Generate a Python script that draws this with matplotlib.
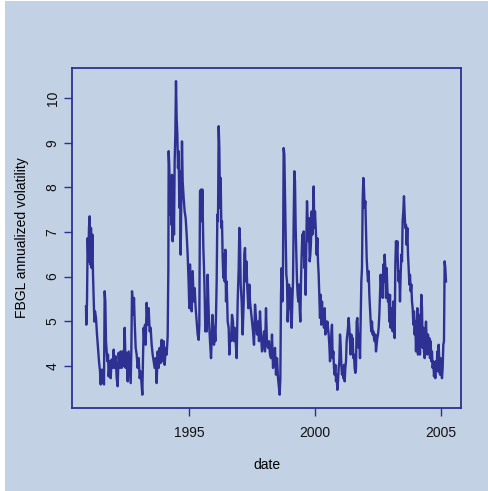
import matplotlib
matplotlib.use("Agg")
import matplotlib.pyplot as plt
from matplotlib.patches import Rectangle

# annualized volatility of the FBGL series, sampled roughly every two weeks
years = [
    1990.889, 1990.902, 1990.929, 1990.955, 1990.982, 1991.008, 1991.035, 1991.062, 1991.088, 1991.115,
    1991.141, 1991.168, 1991.194, 1991.221, 1991.247, 1991.287, 1991.327, 1991.367, 1991.406, 1991.446,
    1991.473, 1991.499, 1991.526, 1991.552, 1991.579, 1991.605, 1991.632, 1991.658, 1991.685, 1991.711,
    1991.738, 1991.765, 1991.791, 1991.831, 1991.871, 1991.911, 1991.950, 1991.990, 1992.030, 1992.070,
    1992.110, 1992.149, 1992.189, 1992.229, 1992.269, 1992.309, 1992.348, 1992.388, 1992.428, 1992.468,
    1992.507, 1992.547, 1992.587, 1992.627, 1992.667, 1992.693, 1992.720, 1992.746, 1992.773, 1992.799,
    1992.826, 1992.866, 1992.905, 1992.945, 1992.985, 1993.025, 1993.065, 1993.104, 1993.131, 1993.157,
    1993.184, 1993.210, 1993.237, 1993.263, 1993.303, 1993.343, 1993.383, 1993.423, 1993.462, 1993.502,
    1993.542, 1993.582, 1993.622, 1993.661, 1993.701, 1993.741, 1993.781, 1993.821, 1993.860, 1993.900,
    1993.940, 1993.980, 1994.020, 1994.059, 1994.099, 1994.139, 1994.166, 1994.179, 1994.205, 1994.232,
    1994.258, 1994.285, 1994.311, 1994.338, 1994.364, 1994.391, 1994.417, 1994.444, 1994.470, 1994.497,
    1994.524, 1994.550, 1994.576, 1994.603, 1994.630, 1994.656, 1994.683, 1994.709, 1994.736, 1994.776,
    1994.815, 1994.855, 1994.895, 1994.935, 1994.975, 1995.001, 1995.028, 1995.054, 1995.094, 1995.134,
    1995.174, 1995.213, 1995.253, 1995.293, 1995.333, 1995.372, 1995.399,
    1995.426, 1995.466, 1995.492, 1995.519, 1995.559, 1995.585, 1995.612, 1995.638, 1995.665, 1995.691,
    1995.731, 1995.758, 1995.784, 1995.824, 1995.864, 1995.890, 1995.917, 1995.956, 1995.983, 1996.010,
    1996.036, 1996.063, 1996.089, 1996.116, 1996.142, 1996.169, 1996.195, 1996.222, 1996.248, 1996.275,
    1996.301, 1996.328, 1996.354, 1996.381, 1996.407, 1996.434, 1996.461, 1996.487, 1996.527, 1996.567,
    1996.593, 1996.620, 1996.659, 1996.699, 1996.739, 1996.766, 1996.805, 1996.845, 1996.885, 1996.925,
    1996.965, 1996.991, 1997.018, 1997.044, 1997.084, 1997.124, 1997.164, 1997.190, 1997.217, 1997.243,
    1997.270, 1997.309, 1997.349, 1997.389, 1997.416, 1997.455, 1997.495, 1997.535, 1997.575, 1997.615,
    1997.654, 1997.694, 1997.734, 1997.774, 1997.813, 1997.853, 1997.893, 1997.933, 1997.973, 1998.012,
    1998.052, 1998.092, 1998.132, 1998.171, 1998.211, 1998.251, 1998.291, 1998.331, 1998.370, 1998.410,
    1998.450, 1998.490, 1998.530, 1998.569, 1998.596, 1998.623, 1998.649, 1998.676, 1998.702, 1998.729,
    1998.755, 1998.782, 1998.808, 1998.835, 1998.861, 1998.888, 1998.914, 1998.941, 1998.967, 1998.994,
    1999.020, 1999.047, 1999.074, 1999.100, 1999.127, 1999.153, 1999.180, 1999.206, 1999.233, 1999.259,
    1999.286, 1999.312, 1999.339, 1999.365, 1999.392, 1999.418, 1999.445, 1999.472, 1999.498, 1999.525,
    1999.551, 1999.578, 1999.604, 1999.631, 1999.657, 1999.684, 1999.710, 1999.737, 1999.763, 1999.790,
    1999.816, 1999.843, 1999.869, 1999.896, 1999.922, 1999.949, 1999.975,
    2000.002, 2000.042, 2000.068, 2000.095, 2000.121, 2000.148, 2000.174, 2000.201, 2000.227, 2000.254,
    2000.281, 2000.307, 2000.334, 2000.360, 2000.387, 2000.413, 2000.440, 2000.466, 2000.493, 2000.519,
    2000.546, 2000.572, 2000.599, 2000.625, 2000.652, 2000.678, 2000.705, 2000.732, 2000.758, 2000.785,
    2000.811, 2000.838, 2000.864, 2000.891, 2000.917, 2000.944, 2000.970, 2000.997, 2001.023, 2001.050,
    2001.076, 2001.103, 2001.129, 2001.156, 2001.183, 2001.209, 2001.236, 2001.262, 2001.289, 2001.315,
    2001.342, 2001.368, 2001.395, 2001.421, 2001.448, 2001.474, 2001.501, 2001.527, 2001.554, 2001.580,
    2001.607, 2001.634, 2001.660, 2001.687, 2001.713, 2001.740, 2001.766, 2001.793, 2001.819, 2001.846,
    2001.872, 2001.899, 2001.925, 2001.952, 2001.978, 2002.005, 2002.031, 2002.058, 2002.085, 2002.111,
    2002.138, 2002.164, 2002.191, 2002.217, 2002.244, 2002.270, 2002.297, 2002.323, 2002.350, 2002.376,
    2002.403, 2002.429, 2002.456, 2002.482, 2002.509, 2002.535, 2002.562, 2002.589, 2002.615, 2002.642,
    2002.668, 2002.695, 2002.721, 2002.748, 2002.774, 2002.801, 2002.827, 2002.854, 2002.880, 2002.907,
    2002.933, 2002.960, 2002.986, 2003.013, 2003.040, 2003.066, 2003.093, 2003.119, 2003.146, 2003.172,
    2003.199, 2003.225, 2003.252, 2003.278, 2003.305, 2003.331, 2003.358, 2003.384, 2003.411, 2003.437,
    2003.464, 2003.490, 2003.517, 2003.543, 2003.570, 2003.596, 2003.623, 2003.650, 2003.676, 2003.703,
    2003.729, 2003.756, 2003.782, 2003.809, 2003.835, 2003.862, 2003.888, 2003.915, 2003.941, 2003.968,
    2003.994, 2004.021, 2004.047, 2004.074, 2004.100, 2004.127, 2004.154, 2004.180, 2004.207, 2004.233,
    2004.260, 2004.286, 2004.313, 2004.339, 2004.366, 2004.392, 2004.419, 2004.445, 2004.472, 2004.498,
    2004.525, 2004.551, 2004.578, 2004.604, 2004.631, 2004.657, 2004.684, 2004.711, 2004.737, 2004.764,
    2004.790, 2004.817, 2004.843, 2004.870, 2004.896, 2004.923, 2004.949, 2004.976, 2005.002, 2005.029,
    2005.055, 2005.082, 2005.108, 2005.135, 2005.161, 2005.188, 2005.215,
]

vol = [
    5.33, 4.92, 5.44, 6.86, 6.34, 7.09, 7.35, 6.27, 7.09, 6.19,
    6.94, 6.04, 5.52, 4.99, 5.22, 5.07, 4.70, 4.40, 4.10, 3.88,
    3.58, 3.91, 3.61, 3.91, 3.72, 3.58, 5.67, 5.44, 4.55, 4.32,
    4.10, 4.25, 3.76, 4.10, 3.72, 4.14, 3.95, 4.36, 3.95, 4.21,
    3.72, 3.54, 4.29, 3.95, 4.32, 3.95, 4.32, 3.99, 4.85, 3.95,
    4.29, 3.65, 4.32, 3.95, 3.61, 4.32, 5.67, 5.44, 5.14, 5.52,
    4.99, 4.40, 4.25, 3.95, 4.17, 3.72, 3.87, 3.58, 3.35, 4.17,
    4.85, 4.55, 4.92, 4.47, 5.41, 4.92, 5.29, 4.77, 4.85, 4.47,
    4.25, 4.10, 3.95, 4.17, 3.61, 4.32, 3.95, 4.40, 4.06, 4.58,
    4.10, 4.55, 4.02, 4.40, 4.25, 4.66, 6.19, 8.81, 8.43, 7.39,
    8.21, 7.16, 8.28, 6.79, 8.13, 6.94, 8.58, 9.18, 10.38, 9.55,
    9.18, 8.43, 8.81, 7.54, 8.36, 6.49, 7.69, 9.03, 8.13, 7.76,
    7.46, 7.31, 6.94, 6.49, 5.82, 5.29, 6.27, 5.59, 5.22, 6.12,
    5.44, 5.74, 5.29, 4.99, 4.70, 4.58, 4.92,
    7.91, 7.95, 7.24, 7.95, 6.64, 6.19, 5.59, 4.77, 5.07, 4.77,
    6.04, 5.44, 4.99, 4.55, 4.17, 4.55, 5.14, 4.85, 4.47, 4.85,
    4.55, 5.14, 5.89, 7.39, 7.24, 9.37, 8.88, 7.54, 8.21, 7.09,
    7.24, 6.42, 5.97, 6.49, 5.89, 6.60, 5.44, 5.89, 4.99, 4.85,
    4.25, 4.70, 4.55, 5.14, 4.99, 4.55, 4.85, 4.55, 4.17, 5.44,
    6.19, 7.09, 6.79, 5.82, 5.44, 4.70, 5.44, 6.49, 6.64, 5.89,
    6.34, 5.74, 5.29, 5.82, 5.44, 5.22, 4.99, 4.77, 4.47, 5.37,
    5.07, 4.70, 4.99, 4.55, 5.22, 4.70, 4.32, 4.55, 4.77, 4.32,
    5.29, 4.47, 4.40, 4.55, 4.25, 4.17, 4.70, 3.95, 4.10, 4.40,
    3.80, 4.17, 3.72, 3.50, 3.35, 3.72, 5.59, 6.19, 5.44, 6.19,
    8.88, 8.73, 7.84, 6.94, 6.04, 5.89, 4.99, 5.44, 5.82, 5.29,
    5.74, 4.99, 4.85, 5.44, 5.89, 7.24, 8.36, 8.13, 7.09, 6.49,
    5.89, 5.59, 5.44, 5.82, 5.29, 4.99, 5.89, 6.49, 6.94, 6.49,
    7.01, 6.19, 6.49, 5.59, 6.79, 7.69, 7.24, 6.79, 7.31, 6.34,
    6.49, 6.79, 7.46, 6.94, 7.39, 8.02, 7.09,
    7.46, 6.94, 6.49, 6.86, 6.34, 6.04, 5.59, 5.07, 5.59, 4.92,
    5.44, 4.99, 5.14, 4.85, 5.29, 4.70, 4.99, 4.77, 4.99, 4.85,
    4.70, 4.47, 4.10, 4.32, 4.70, 4.92, 4.17, 4.32, 3.95, 3.80,
    4.02, 3.65, 3.80, 3.46, 3.65, 3.95, 4.10, 4.70, 4.47, 4.02,
    3.80, 3.95, 3.72, 4.02, 3.65, 3.95, 4.10, 4.55, 4.70, 4.85,
    5.07, 4.85, 4.55, 4.25, 4.70, 4.40, 4.62, 4.17, 4.25, 3.95,
    3.84, 3.95, 4.99, 5.07, 4.70, 4.40, 4.70, 4.17, 4.99, 5.89,
    6.19, 7.69, 8.21, 7.98, 7.54, 7.69, 7.09, 6.42, 6.12, 5.89,
    6.12, 5.59, 5.29, 4.99, 4.77, 4.99, 4.70, 4.77, 4.62, 4.55,
    4.70, 4.32, 4.47, 4.62, 4.70, 4.85, 5.14, 5.59, 6.04, 5.74,
    5.97, 5.52, 6.27, 5.89, 6.49, 6.19, 5.52, 6.19, 5.74, 5.44,
    5.59, 4.99, 5.59, 4.85, 5.29, 5.14, 4.77, 5.44, 4.99, 4.62,
    6.27, 6.79, 6.49, 6.79, 6.19, 5.89, 6.12, 5.44, 6.04, 6.49,
    6.34, 7.24, 7.46, 7.80, 7.39, 7.09, 7.16, 6.71, 7.09, 6.49,
    6.19, 5.82, 6.04, 5.67, 5.82, 5.44, 5.29, 4.92, 5.22, 4.70,
    4.99, 4.32, 4.85, 5.29, 4.25, 5.14, 4.70, 4.25, 4.99, 5.59,
    5.29, 4.40, 4.85, 4.32, 4.17, 4.70, 4.99, 4.55, 4.25, 4.70,
    4.40, 4.62, 4.17, 4.55, 4.10, 4.32, 3.95, 4.10, 3.76, 3.95,
    3.72, 4.10, 3.95, 4.32, 3.87, 4.47, 4.10, 3.80, 4.17, 3.95,
    3.72, 3.95, 4.47, 4.55, 6.34, 6.19, 5.89,
]

x_ticks = [1995, 2000, 2005]
y_ticks = [4, 5, 6, 7, 8, 9, 10]

bg = "#c2d1e3"
navy = "#2e3192"

plt.rcParams["font.family"] = ["Liberation Sans", "DejaVu Sans"]

fig = plt.figure(figsize=(4.89, 4.91), dpi=100, facecolor="white")
fig.patches.append(Rectangle((5 / 489, 0), 1, 490 / 491, transform=fig.transFigure,
                             facecolor=bg, edgecolor="none", zorder=-1))
ax = fig.add_axes([72 / 489, 1 - 408 / 491, 389 / 489, 340 / 491])
ax.set_facecolor(bg)

ax.plot(years, vol, color=navy, lw=1.7)

ax.set_xlim(1990.332, 2005.812)
ax.set_ylim(3.052, 10.675)
ax.set_xticks(x_ticks)
ax.set_yticks(y_ticks)
ax.set_yticklabels([str(t) for t in y_ticks], rotation=90, va="center")

for s in ax.spines.values():
    s.set_color(navy)
    s.set_linewidth(1.3)
ax.tick_params(length=6, width=1, color=navy, labelsize=10, labelcolor="#111111")
ax.tick_params(axis="x", pad=7)
ax.tick_params(axis="y", pad=3)

ax.set_xlabel("date", fontsize=10, labelpad=13)
ax.set_ylabel("FBGL annualized volatility", fontsize=10, labelpad=12)

fig.savefig("out.png", dpi=100, facecolor=fig.get_facecolor())
